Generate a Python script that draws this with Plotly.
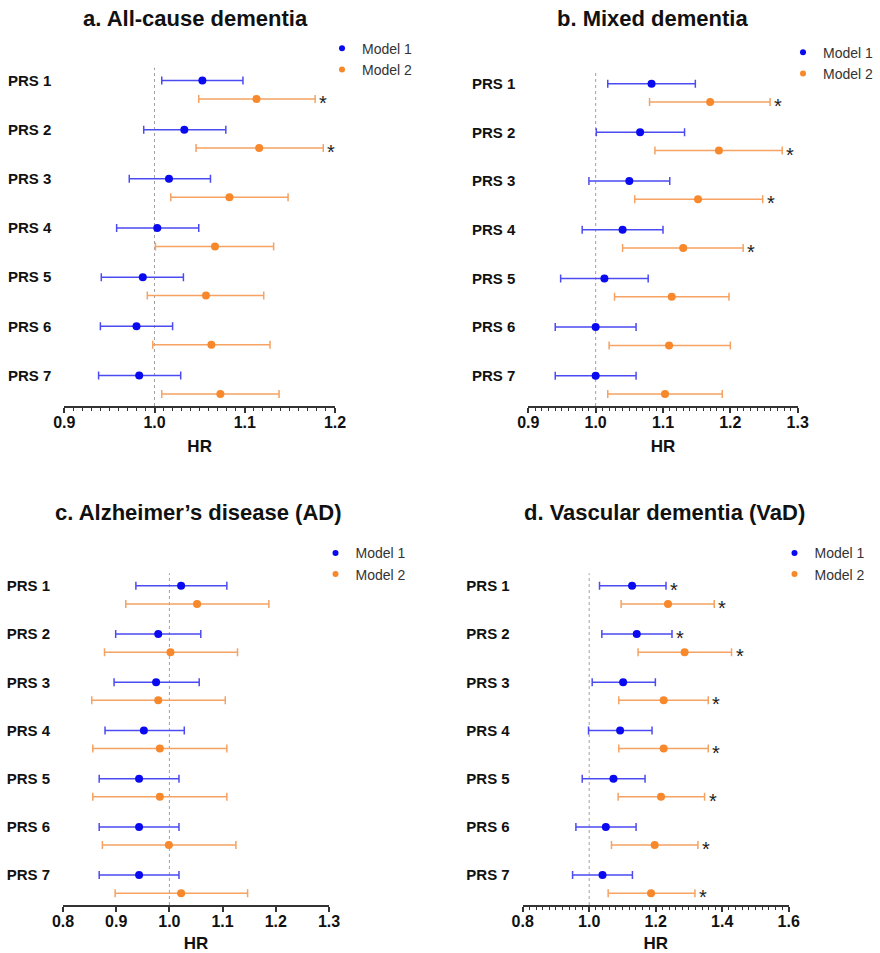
import plotly.graph_objects as go

# ---------------- data ----------------
categories = ["PRS 1", "PRS 2", "PRS 3", "PRS 4", "PRS 5", "PRS 6", "PRS 7"]

a_m1_hr = [1.053, 1.033, 1.016, 1.003, 0.987, 0.980, 0.983]
a_m1_lo = [1.008, 0.988, 0.972, 0.958, 0.941, 0.940, 0.938]
a_m1_hi = [1.098, 1.079, 1.062, 1.049, 1.032, 1.020, 1.029]
a_m2_hr = [1.113, 1.116, 1.083, 1.067, 1.057, 1.063, 1.073]
a_m2_lo = [1.049, 1.046, 1.018, 1.001, 0.992, 0.998, 1.008]
a_m2_hi = [1.178, 1.187, 1.148, 1.132, 1.121, 1.128, 1.138]
a_m1_sig = [0, 0, 0, 0, 0, 0, 0]
a_m2_sig = [1, 1, 0, 0, 0, 0, 0]

b_m1_hr = [1.083, 1.066, 1.050, 1.040, 1.013, 1.000, 1.000]
b_m1_lo = [1.018, 1.001, 0.990, 0.980, 0.948, 0.940, 0.940]
b_m1_hi = [1.148, 1.132, 1.110, 1.100, 1.078, 1.060, 1.060]
b_m2_hr = [1.170, 1.183, 1.152, 1.130, 1.113, 1.109, 1.103]
b_m2_lo = [1.080, 1.088, 1.058, 1.040, 1.028, 1.020, 1.018]
b_m2_hi = [1.259, 1.277, 1.248, 1.219, 1.198, 1.200, 1.188]
b_m1_sig = [0, 0, 0, 0, 0, 0, 0]
b_m2_sig = [1, 1, 1, 1, 0, 0, 0]

c_m1_hr = [1.022, 0.979, 0.975, 0.952, 0.943, 0.943, 0.943]
c_m1_lo = [0.937, 0.899, 0.896, 0.879, 0.868, 0.868, 0.868]
c_m1_hi = [1.108, 1.059, 1.056, 1.028, 1.018, 1.018, 1.018]
c_m2_hr = [1.052, 1.002, 0.979, 0.982, 0.982, 0.999, 1.022]
c_m2_lo = [0.918, 0.878, 0.854, 0.856, 0.856, 0.874, 0.898]
c_m2_hi = [1.187, 1.128, 1.105, 1.108, 1.108, 1.125, 1.147]
c_m1_sig = [0, 0, 0, 0, 0, 0, 0]
c_m2_sig = [0, 0, 0, 0, 0, 0, 0]

d_m1_hr = [1.129, 1.143, 1.102, 1.093, 1.073, 1.050, 1.040]
d_m1_lo = [1.031, 1.038, 1.009, 0.998, 0.979, 0.960, 0.950]
d_m1_hi = [1.231, 1.249, 1.199, 1.189, 1.168, 1.141, 1.130]
d_m2_hr = [1.237, 1.287, 1.224, 1.224, 1.216, 1.197, 1.186]
d_m2_lo = [1.096, 1.147, 1.089, 1.089, 1.087, 1.067, 1.057]
d_m2_hi = [1.376, 1.428, 1.358, 1.358, 1.347, 1.327, 1.318]
d_m1_sig = [1, 1, 0, 0, 0, 0, 0]
d_m2_sig = [1, 1, 1, 1, 1, 1, 1]

titles = ["a. All-cause dementia", "b. Mixed dementia",
          "c. Alzheimer\u2019s disease (AD)", "d. Vascular dementia (VaD)"]
x_ranges = [[0.9, 1.2], [0.9, 1.3], [0.8, 1.3], [0.8, 1.6]]
x_dticks = [0.1, 0.1, 0.1, 0.2]
x_minor = [0.01, 0.01, None, 0.02]

panels = [
    (a_m1_hr, a_m1_lo, a_m1_hi, a_m2_hr, a_m2_lo, a_m2_hi, a_m1_sig, a_m2_sig),
    (b_m1_hr, b_m1_lo, b_m1_hi, b_m2_hr, b_m2_lo, b_m2_hi, b_m1_sig, b_m2_sig),
    (c_m1_hr, c_m1_lo, c_m1_hi, c_m2_hr, c_m2_lo, c_m2_hi, c_m1_sig, c_m2_sig),
    (d_m1_hr, d_m1_lo, d_m1_hi, d_m2_hr, d_m2_lo, d_m2_hi, d_m1_sig, d_m2_sig),
]

# ---------------- layout geometry (pixels) ----------------
W, H = 880, 953
geom = [  # x0, x1, top, bottom
    (64.3, 335.0, 67.7, 406.0),
    (528.3, 797.7, 71.0, 406.0),
    (63.0, 329.0, 573.3, 905.0),
    (522.7, 788.7, 573.3, 905.0),
]
title_pos = [(195.5, 19), (652.5, 19), (198.8, 512), (664, 512)]
legend_text_pos = [(364, 47.7), (825, 51.7), (357.5, 552.3), (816.5, 552.3)]
y_range = [6.62, -0.26]
orange_off = 0.375

FONT = "Liberation Sans, Arial, Helvetica, sans-serif"
BLUE = "#0a0af0"
BLUE_BAR = "#4b4bf2"
ORANGE = "#f7882c"
ORANGE_BAR = "#f5a262"

fig = go.Figure()
annotations = []
shapes = []
layout = dict(
    width=W, height=H,
    margin=dict(l=0, r=0, t=0, b=0, pad=0, autoexpand=False),
    paper_bgcolor="white", plot_bgcolor="white",
    font=dict(family=FONT, color="#111"),
)

ypos = list(range(len(categories)))

for i, (m1, m1lo, m1hi, m2, m2lo, m2hi, s1, s2) in enumerate(panels):
    k = "" if i == 0 else str(i + 1)
    xa, ya = "x" + k, "y" + k
    leg = "legend" + k
    y1 = ypos
    y2 = [v + orange_off for v in ypos]
    for name, hr, lo, hi, yy, mc, bc, sig in [
        ("Model 1", m1, m1lo, m1hi, y1, BLUE, BLUE_BAR, s1),
        ("Model 2", m2, m2lo, m2hi, y2, ORANGE, ORANGE_BAR, s2),
    ]:
        fig.add_trace(go.Scatter(
            x=hr, y=yy, mode="markers", name=name, xaxis=xa, yaxis=ya,
            showlegend=False,
            marker=dict(color=mc, size=8),
            error_x=dict(type="data", symmetric=False,
                         array=[h - v for h, v in zip(hi, hr)],
                         arrayminus=[v - l for v, l in zip(hr, lo)],
                         color=bc, thickness=1.5, width=4),
        ))
        # legend entry (small dot, as in the original legend)
        fig.add_trace(go.Scatter(
            x=[None], y=[None], mode="markers", name=name, xaxis=xa, yaxis=ya,
            legend=leg, showlegend=True,
            marker=dict(color=mc, size=6),
        ))
        for j, sflag in enumerate(sig):
            if sflag:
                annotations.append(dict(
                    x=hi[j], y=yy[j], xref=xa, yref=ya, text="*",
                    showarrow=False, xanchor="left", yanchor="middle",
                    xshift=2, yshift=-4,
                    font=dict(family=FONT, size=20, color="#222")))

    x0, x1, top, bot = geom[i]
    layout["xaxis" + k] = dict(
        domain=[x0 / W, x1 / W], anchor=ya, range=x_ranges[i],
        dtick=x_dticks[i], tick0=0, tickformat=".1f",
        showline=True, linecolor="#333", linewidth=2,
        ticks="outside", ticklen=5, tickwidth=1.5, tickcolor="#333",
        ticklabelstandoff=-4,
        showgrid=False, zeroline=False,
        tickfont=dict(family=FONT, size=16, color="#111", weight="bold"),
        title=dict(text="HR", standoff=10,
                   font=dict(family=FONT, size=17, color="#111", weight="bold")),
    )
    if x_minor[i]:
        layout["xaxis" + k]["minor"] = dict(
            dtick=x_minor[i], tick0=0, ticks="outside", ticklen=3,
            tickwidth=1.3, tickcolor="#333", showgrid=False)
    layout["yaxis" + k] = dict(
        domain=[1 - bot / H, 1 - top / H], anchor=xa, range=y_range,
        tickvals=ypos, ticktext=categories, showline=False,
        ticks="outside", ticklen=9, tickcolor="rgba(0,0,0,0)",
        showgrid=False, zeroline=False,
        tickfont=dict(family=FONT, size=15, color="#111", weight="bold"),
    )
    shapes.append(dict(type="line", xref=xa, yref=ya + " domain",
                       x0=1.0, x1=1.0, y0=0, y1=1,
                       line=dict(color="#a0a0a0", width=1, dash="dot"),
                       layer="below"))
    tx, ty = title_pos[i]
    annotations.append(dict(x=tx / W, y=1 - ty / H, xref="paper", yref="paper",
                            text=titles[i], showarrow=False,
                            xanchor="center", yanchor="middle",
                            font=dict(family=FONT, size=22, color="#111",
                                      weight="bold")))
    lx, ly = legend_text_pos[i]
    layout[leg] = dict(x=(lx - 42) / W, y=1 - (ly - 15) / H,
                       xanchor="left", yanchor="top",
                       bgcolor="rgba(0,0,0,0)", borderwidth=0,
                       font=dict(family=FONT, size=14, color="#333"),
                       itemsizing="trace", tracegroupgap=0)

layout["annotations"] = annotations
layout["shapes"] = shapes
fig.update_layout(**layout)
fig.write_html("out.html")
